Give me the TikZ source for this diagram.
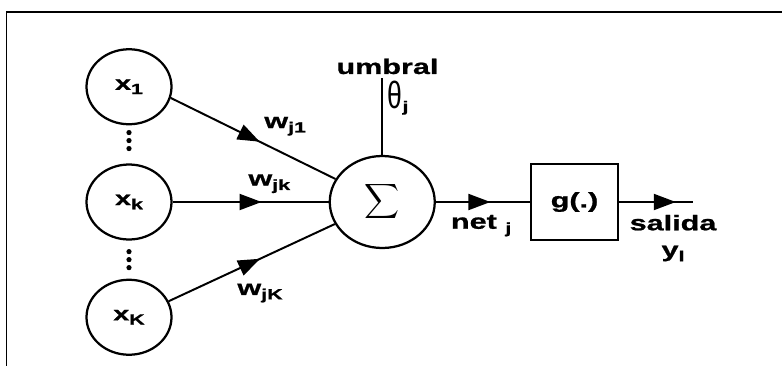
\documentclass[tikz,border=0pt]{standalone}
\usepackage{amsmath}
\usepackage{fontspec}
\usepackage{tikz}
\usetikzlibrary{arrows.meta,positioning,shapes.geometric,decorations.markings,calc}
\newfontfamily\rotulofont{Liberation Sans}[FakeStretch=1.45, BoldFeatures={FakeBold=1}]
\newfontfamily\griegafont{Liberation Sans}[FakeStretch=0.7]
\newcommand{\indice}[1]{\raisebox{-0.4ex}{\fontsize{10.5}{12}\selectfont #1}}

\begin{document}
\begin{tikzpicture}[
  entrada/.style={ellipse, draw, line width=1.6pt, inner sep=0pt, minimum width=2.125cm, minimum height=1.875cm, font=\fontsize{14}{16}\rotulofont\bfseries},
  suma/.style={ellipse, draw, line width=1.6pt, inner sep=0pt, minimum width=2.625cm, minimum height=2.3cm},
  caja/.style={draw, line width=1.6pt, inner sep=0pt, minimum width=2.175cm, minimum height=1.9cm, font=\fontsize{15}{17}\rotulofont\bfseries},
  rotulo/.style={inner sep=0pt, font=\fontsize{15}{17}\rotulofont\bfseries},
  linea/.style={line width=1.4pt},
  flecha/.style={line width=1.4pt, postaction={decorate},
    decoration={markings, mark=at position #1 with {\arrow{Triangle[length=5.5mm,width=4mm]}}}},
  marco/.style={line width=1.3pt}
]
\useasboundingbox (0,0) rectangle (19.55,-9.15);

% entradas
\node[entrada] (xk) at (3.225,-5.05) {x\indice{k}};
\node[entrada, above=0.95cm of xk] (x1) {x\indice{1}};
\node[entrada, below=0.95cm of xk] (xK) {x\indice{K}};

% neurona j
\node[suma, right=3.9cm of xk] (suma) {\fontsize{19}{19}\selectfont$\displaystyle\sum$};
\node[caja, right=2.35cm of suma] (g) {g(.)};
\coordinate[right=1.84cm of g] (salida);
\coordinate[above=1.93cm of suma] (umb);

% puntos suspensivos
\coordinate (p1) at ($(x1.south)!0.4!(xk.north)$);
\coordinate (p2) at ($(xk.south)!0.5!(xK.north)$);
\foreach \d in {-0.2,0,0.2} {
  \fill ($(p1)+(0,\d)$) circle (0.065);
  \fill ($(p2)+(0,\d)$) circle (0.065);
}

% pesos
\draw[flecha=0.54] (x1.-15) -- node[rotulo, pos=0.55, anchor=south west, xshift=0.05cm, yshift=0.15cm] (wj1) {w\indice{j1}} (suma);
\draw[flecha=0.57] (xk) -- node[rotulo, pos=0.48, anchor=south west, yshift=0.2cm] (wjk) {w\indice{jk}} (suma);
\draw[flecha=0.55] (xK.22) -- node[rotulo, pos=0.42, anchor=north west, xshift=-0.05cm, yshift=-0.35cm] (wjK) {w\indice{jK}} (suma);

% umbral
\draw[linea] (suma) -- (umb);
\node[rotulo, anchor=south, xshift=0.13cm, yshift=0.08cm] (umbral) at (umb) {umbral};
\node[inner sep=0pt, anchor=north west, xshift=0.13cm, yshift=-0.08cm] (theta) at (umb)
  {{\griegafont\fontsize{27}{28}\selectfont θ}{\rotulofont\bfseries\indice{j}}};

% salida
\draw[flecha=0.58] (suma) -- node[rotulo, pos=0.15, anchor=north west, yshift=-0.3cm] (net) {net \indice{j}} (g);
\draw[flecha=0.77] (g) -- node[rotulo, pos=0.13, anchor=north west, yshift=-0.3cm] (sal) {salida} (salida);
\node[rotulo, below=0.35cm of sal] (yl) {y\indice{l}};

% marco
\draw[marco] (19.55,-0.3) -- (0.1625,-0.3) -- (0.1625,-9.15);
\end{tikzpicture}
\end{document}
